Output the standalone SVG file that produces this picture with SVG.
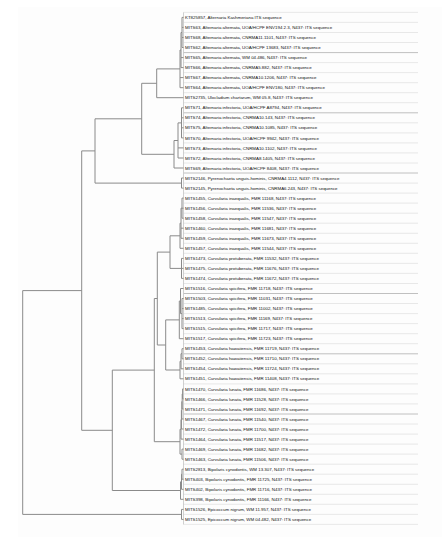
<svg xmlns="http://www.w3.org/2000/svg" width="447" height="542" viewBox="0 0 447 542">
<style>
.bg{fill:#fdfdfd;stroke:none}
.br{fill:none;stroke:#8a8a8a;stroke-width:1}
.rl{fill:none;stroke:#e2e2e2;stroke-width:0.8}
.rd{fill:none;stroke:#b0b0b0;stroke-width:0.8}
.bd{fill:none;stroke:#c4c4c4;stroke-width:0.8}
text{font-family:"Liberation Sans",Arial,sans-serif;font-size:4.4px;fill:#111}
</style>
<rect class="bg" x="18" y="7" width="424" height="530"/>
<g id="grid">
<path class="rl" d="M183.5 12.4H418M183.5 22.4H418M183.5 32.5H418M183.5 42.5H418M183.5 62.6H418M183.5 72.6H418M183.5 82.7H418M183.5 92.7H418M183.5 102.7H418M183.5 122.8H418M183.5 132.9H418M183.5 142.9H418M183.5 152.9H418M183.5 163.0H418M183.5 183.1H418M183.5 193.1H418M183.5 203.1H418M183.5 213.2H418M183.5 223.2H418M183.5 233.3H418M183.5 243.3H418M183.5 253.3H418M183.5 263.4H418M183.5 273.4H418M183.5 283.5H418M183.5 303.5H418M183.5 313.6H418M183.5 323.6H418M183.5 333.7H418M183.5 343.7H418M183.5 363.8H418M183.5 373.8H418M183.5 383.9H418M183.5 393.9H418M183.5 403.9H418M183.5 424.0H418M183.5 434.1H418M183.5 444.1H418M183.5 454.1H418M183.5 464.2H418M183.5 474.2H418M183.5 484.3H418M183.5 494.3H418M183.5 504.3H418M183.5 514.4H418M183.5 524.4H418"/>
<path class="rd" d="M183.5 52.6H418M183.5 112.8H418M183.5 173.0H418M183.5 293.5H418M183.5 353.8H418M183.5 414.0H418"/>
<path class="bd" d="M183.5 12.4V524.4"/>
</g>
<g id="branches">
<path class="br" d="M22.7 290.6V514.4M22.7 290.6H81.7M22.7 514.4H181.5"/>
<path class="br" d="M81.7 150.9V430.3M81.7 150.9H95M81.7 430.3H112.3"/>
<path class="br" d="M95 118.8V183.1M95 118.8H141.7M95 183.1H181.5"/>
<path class="br" d="M141.7 83.3V154.3M141.7 83.3H156.7M141.7 154.3H174"/>
<path class="br" d="M156.7 68.9V97.7M156.7 68.9H180M156.7 97.7H183.5"/>
<path class="br" d="M180 50V87.7M180 50H181M180 77.6H183.5M180 87.7H183.5"/>
<path class="br" d="M181 32.5V67.6M181 32.5H182M181 57.6H183.5M181 67.6H183.5"/>
<path class="br" d="M182 17.4V47.5M182 17.4H183.5M182 27.4H183.5M182 37.5H183.5M182 47.5H183.5"/>
<path class="br" d="M174 140.5V168M174 140.5H178M174 168H183.5"/>
<path class="br" d="M178 122.9V158M178 122.9H181.5M178 147.9H183.5M178 158H183.5"/>
<path class="br" d="M181.5 107.8V137.9M181.5 107.8H183.5M181.5 117.8H183.5M181.5 127.8H183.5M181.5 137.9H183.5"/>
<path class="br" d="M181.5 178V188.1M181.5 178H183.5M181.5 188.1H183.5"/>
<path class="br" d="M112.3 370.1V490.5M112.3 370.1H154.3M112.3 490.5H180.5"/>
<path class="br" d="M154.3 298.5V441.7M154.3 298.5H157.3M154.3 441.7H180"/>
<path class="br" d="M157.3 252.1V345M157.3 252.1H170M157.3 345H165.7"/>
<path class="br" d="M170 235.8V268.4M170 235.8H180M170 268.4H181.5"/>
<path class="br" d="M180 223.2V248.3M180 223.2H181M180 248.3H183.5"/>
<path class="br" d="M181 208.2V238.3M181 208.2H182M181 228.2H183.5M181 238.3H183.5"/>
<path class="br" d="M182 198.1V218.2M182 198.1H183.5M182 208.2H183.5M182 218.2H183.5"/>
<path class="br" d="M181.5 258.4V278.4M181.5 258.4H183.5M181.5 268.4H183.5M181.5 278.4H183.5"/>
<path class="br" d="M165.7 319.9V370M165.7 319.9H179.3M165.7 370H180"/>
<path class="br" d="M179.3 301V338.7M179.3 301H180.5M179.3 338.7H183.5"/>
<path class="br" d="M180.5 288.5V313.6M180.5 288.5H183.5M180.5 313.6H182"/>
<path class="br" d="M182 298.5V328.6M182 298.5H183.5M182 308.6H183.5M182 318.6H183.5M182 328.6H183.5"/>
<path class="br" d="M180 361.3V378.8M180 361.3H181M180 378.8H183.5"/>
<path class="br" d="M181 353.7V368.8M181 353.7H182M181 368.8H183.5"/>
<path class="br" d="M182 348.7V358.8M182 348.7H183.5M182 358.8H183.5"/>
<path class="br" d="M180 429.3V454.1M180 429.3H181M180 454.1H182"/>
<path class="br" d="M181 419.6V439.1M181 419.6H181.4M181 439.1H183.5"/>
<path class="br" d="M181.4 410.2V429M181.4 429H183.5"/>
<path class="br" d="M181.8 401.4V419M181.8 419H183.5"/>
<path class="br" d="M182.2 393.9V409M182.2 409H183.5"/>
<path class="br" d="M182.6 388.9V398.9M182.6 388.9H183.5M182.6 398.9H183.5"/>
<path class="br" d="M182 449.1V459.2M182 449.1H183.5M182 459.2H183.5"/>
<path class="br" d="M180.5 481.8V499.3M180.5 481.8H181.5M180.5 499.3H183.5"/>
<path class="br" d="M181.5 474.2V489.3M181.5 474.2H182M181.5 489.3H183.5"/>
<path class="br" d="M182 469.2V479.2M182 469.2H183.5M182 479.2H183.5"/>
<path class="br" d="M181.5 509.4V519.4M181.5 509.4H183.5M181.5 519.4H183.5"/>
</g>
<g id="leaves">
<g id="leaf01"><text x="185" y="19">KT825857, Alternaria Kashmeriana ITS sequence</text></g>
<g id="leaf02"><text x="185" y="29">MITS63, Alternaria alternata, UOA/HCPF ENV194 2.3, N437: ITS sequence</text></g>
<g id="leaf03"><text x="185" y="39.1">MITS68, Alternaria alternata, CNRMA11.1101, N437: ITS sequence</text></g>
<g id="leaf04"><text x="185" y="49.1">MITS62, Alternaria alternata, UOA/HCPF 13683, N437: ITS sequence</text></g>
<g id="leaf05"><text x="185" y="59.2">MITS65, Alternaria alternata, WM 04.486, N437: ITS sequence</text></g>
<g id="leaf06"><text x="185" y="69.2">MITS66, Alternaria alternata, CNRMA5.882, N437: ITS sequence</text></g>
<g id="leaf07"><text x="185" y="79.2">MITS67, Alternaria alternata, CNRMA10.1206, N437: ITS sequence</text></g>
<g id="leaf08"><text x="185" y="89.3">MITS64, Alternaria alternata, UOA/HCPF ENV180, N437: ITS sequence</text></g>
<g id="leaf09"><text x="185" y="99.3">MITS2735, Ulocladium chartarum, WM 05.8, N437: ITS sequence</text></g>
<g id="leaf10"><text x="185" y="109.4">MITS71, Alternaria infectoria, UOA/HCPF A8794, N437: ITS sequence</text></g>
<g id="leaf11"><text x="185" y="119.4">MITS74, Alternaria infectoria, CNRMA10.143, N437: ITS sequence</text></g>
<g id="leaf12"><text x="185" y="129.4">MITS75, Alternaria infectoria, CNRMA10.1085, N437: ITS sequence</text></g>
<g id="leaf13"><text x="185" y="139.5">MITS70, Alternaria infectoria, UOA/HCPF 9942, N437: ITS sequence</text></g>
<g id="leaf14"><text x="185" y="149.5">MITS73, Alternaria infectoria, CNRMA10.1102, N437: ITS sequence</text></g>
<g id="leaf15"><text x="185" y="159.6">MITS72, Alternaria infectoria, CNRMA8.1405, N437: ITS sequence</text></g>
<g id="leaf16"><text x="185" y="169.6">MITS69, Alternaria infectoria, UOA/HCPF 8408, N437: ITS sequence</text></g>
<g id="leaf17"><text x="185" y="179.6">MITS2146, Pyrenochaeta unguis-hominis, CNRMA4.1112, N437: ITS sequence</text></g>
<g id="leaf18"><text x="185" y="189.7">MITS2145, Pyrenochaeta unguis-hominis, CNRMA6.243, N437: ITS sequence</text></g>
<g id="leaf19"><text x="185" y="199.7">MITS1455, Curvularia inaequalis, FMR 11168, N437: ITS sequence</text></g>
<g id="leaf20"><text x="185" y="209.8">MITS1456, Curvularia inaequalis, FMR 11536, N437: ITS sequence</text></g>
<g id="leaf21"><text x="185" y="219.8">MITS1458, Curvularia inaequalis, FMR 11547, N437: ITS sequence</text></g>
<g id="leaf22"><text x="185" y="229.8">MITS1460, Curvularia inaequalis, FMR 11681, N437: ITS sequence</text></g>
<g id="leaf23"><text x="185" y="239.9">MITS1459, Curvularia inaequalis, FMR 11673, N437: ITS sequence</text></g>
<g id="leaf24"><text x="185" y="249.9">MITS1457, Curvularia inaequalis, FMR 11544, N437: ITS sequence</text></g>
<g id="leaf25"><text x="185" y="260">MITS1473, Curvularia protuberata, FMR 11532, N437: ITS sequence</text></g>
<g id="leaf26"><text x="185" y="270">MITS1475, Curvularia protuberata, FMR 11676, N437: ITS sequence</text></g>
<g id="leaf27"><text x="185" y="280">MITS1474, Curvularia protuberata, FMR 11672, N437: ITS sequence</text></g>
<g id="leaf28"><text x="185" y="290.1">MITS1516, Curvularia spicifera, FMR 11718, N437: ITS sequence</text></g>
<g id="leaf29"><text x="185" y="300.1">MITS1503, Curvularia spicifera, FMR 11031, N437: ITS sequence</text></g>
<g id="leaf30"><text x="185" y="310.2">MITS1485, Curvularia spicifera, FMR 11002, N437: ITS sequence</text></g>
<g id="leaf31"><text x="185" y="320.2">MITS1513, Curvularia spicifera, FMR 11169, N437: ITS sequence</text></g>
<g id="leaf32"><text x="185" y="330.2">MITS1515, Curvularia spicifera, FMR 11717, N437: ITS sequence</text></g>
<g id="leaf33"><text x="185" y="340.3">MITS1517, Curvularia spicifera, FMR 11723, N437: ITS sequence</text></g>
<g id="leaf34"><text x="185" y="350.3">MITS1453, Curvularia hawaiiensis, FMR 11719, N437: ITS sequence</text></g>
<g id="leaf35"><text x="185" y="360.4">MITS1452, Curvularia hawaiiensis, FMR 11710, N437: ITS sequence</text></g>
<g id="leaf36"><text x="185" y="370.4">MITS1454, Curvularia hawaiiensis, FMR 11724, N437: ITS sequence</text></g>
<g id="leaf37"><text x="185" y="380.4">MITS1451, Curvularia hawaiiensis, FMR 11408, N437: ITS sequence</text></g>
<g id="leaf38"><text x="185" y="390.5">MITS1470, Curvularia lunata, FMR 11686, N437: ITS sequence</text></g>
<g id="leaf39"><text x="185" y="400.5">MITS1466, Curvularia lunata, FMR 11528, N437: ITS sequence</text></g>
<g id="leaf40"><text x="185" y="410.6">MITS1471, Curvularia lunata, FMR 11692, N437: ITS sequence</text></g>
<g id="leaf41"><text x="185" y="420.6">MITS1467, Curvularia lunata, FMR 11540, N437: ITS sequence</text></g>
<g id="leaf42"><text x="185" y="430.6">MITS1472, Curvularia lunata, FMR 11700, N437: ITS sequence</text></g>
<g id="leaf43"><text x="185" y="440.7">MITS1464, Curvularia lunata, FMR 11517, N437: ITS sequence</text></g>
<g id="leaf44"><text x="185" y="450.7">MITS1469, Curvularia lunata, FMR 11682, N437: ITS sequence</text></g>
<g id="leaf45"><text x="185" y="460.8">MITS1463, Curvularia lunata, FMR 11506, N437: ITS sequence</text></g>
<g id="leaf46"><text x="185" y="470.8">MITS2813, Bipolaris cynodontis, WM 13.307, N437: ITS sequence</text></g>
<g id="leaf47"><text x="185" y="480.8">MITS403, Bipolaris cynodontis, FMR 11725, N437: ITS sequence</text></g>
<g id="leaf48"><text x="185" y="490.9">MITS402, Bipolaris cynodontis, FMR 11716, N437: ITS sequence</text></g>
<g id="leaf49"><text x="185" y="500.9">MITS398, Bipolaris cynodontis, FMR 11166, N437: ITS sequence</text></g>
<g id="leaf50"><text x="185" y="511">MITS1526, Epicoccum nigrum, WM 11.957, N437: ITS sequence</text></g>
<g id="leaf51"><text x="185" y="521">MITS1525, Epicoccum nigrum, WM 04.482, N437: ITS sequence</text></g>
</g>
</svg>
